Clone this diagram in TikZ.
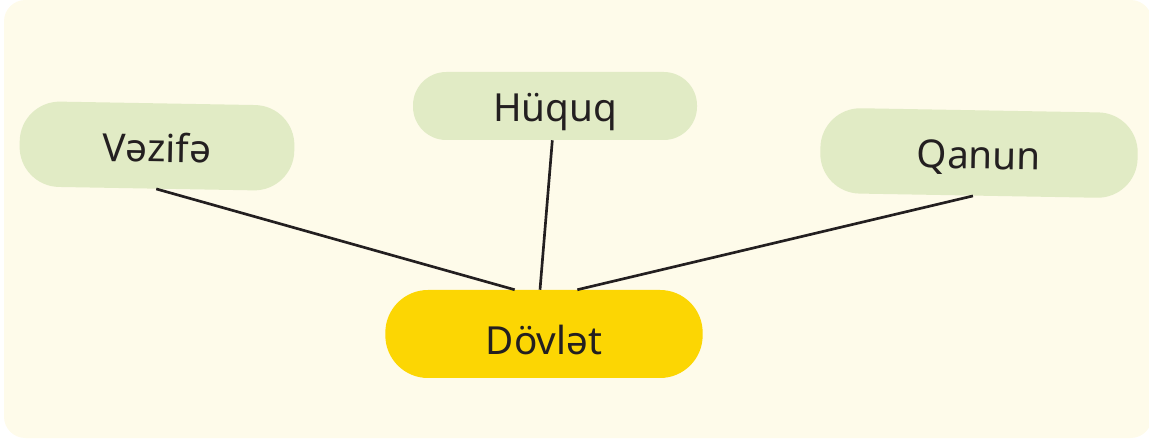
\documentclass[tikz,border=0pt]{standalone}
\usepackage{fontspec}
\setmainfont{Noto Sans}
\usetikzlibrary{positioning}
\definecolor{bgcream}{HTML}{FEFBEA}
\definecolor{leafgreen}{HTML}{E1EBC5}
\definecolor{sunyellow}{HTML}{FCD603}
\definecolor{inkdark}{HTML}{231F20}
\begin{document}
\begin{tikzpicture}[x=0.75pt,y=-0.75pt,
	blob_node/.style={fill=leafgreen,rounded corners=30pt,inner sep=0pt,text=inkdark,text height=26pt,text depth=2pt,font=\fontsize{29}{32}\selectfont},
	main_node/.style={blob_node,fill=sunyellow,text height=32pt},
	link/.style={inkdark,line width=2pt}]
				
				\useasboundingbox (0,0) rectangle (1149,441);
				\fill[bgcream,rounded corners=16pt] (4,0) rectangle (1152,438);
				
				\node[blob_node, minimum width=206pt, minimum height=64pt, rotate=-1] (vaz) at (157,146) {Vəzifə};
				\node[blob_node, minimum width=213pt, minimum height=51pt, rounded corners=25pt] (huq) at (555,106) {Hüquq};
				\node[blob_node, minimum width=238pt, minimum height=64pt, rotate=-1] (qan) at (979,153) {Qanun};
				\node[main_node, minimum width=238pt, minimum height=66pt, rounded corners=32pt] (dov) at (544,334) {Dövlət};
				
				\draw[link] (vaz.south) -- ([xshift=-22pt]dov.north);
				\draw[link] ([xshift=-2pt]huq.south) -- ([xshift=-3pt]dov.north);
				\draw[link] ([xshift=-4pt]qan.south) -- ([xshift=25pt]dov.north);
			\end{tikzpicture}
\end{document}
